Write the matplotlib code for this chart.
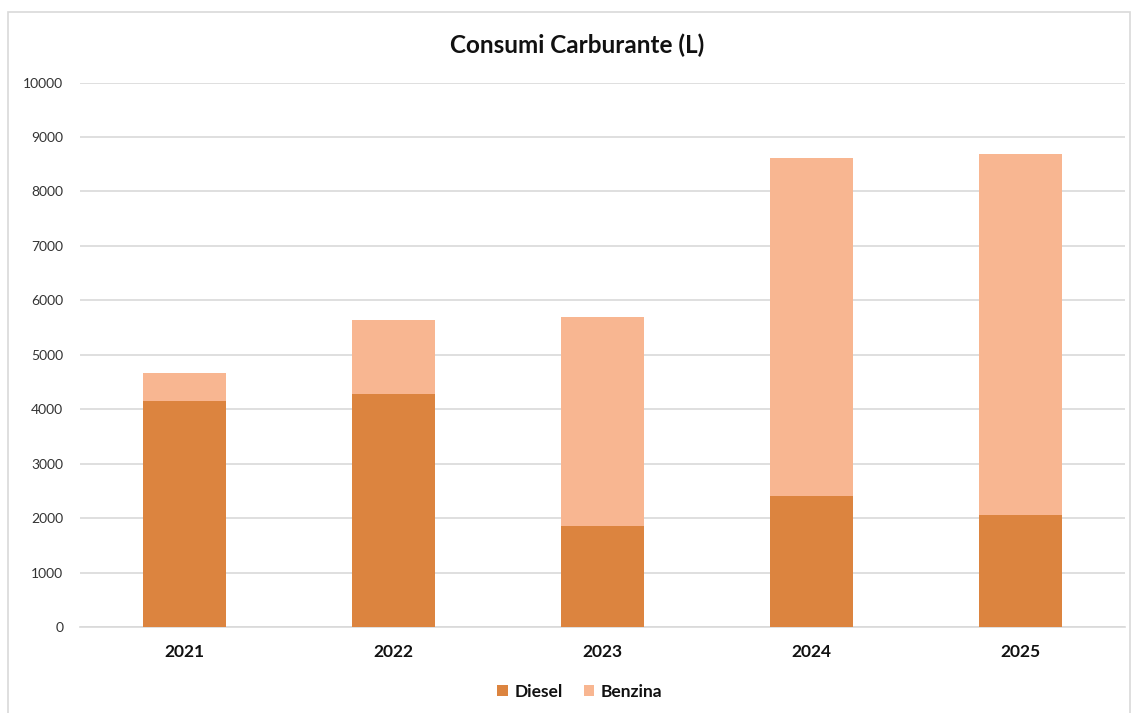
import matplotlib.pyplot as plt
from matplotlib.patches import Rectangle

# data
years = ['2021', '2022', '2023', '2024', '2025']
diesel = [4155, 4275, 1860, 2400, 2057]
benzina = [505, 1358, 3839, 6213, 6624]
yticks = list(range(0, 10001, 1000))

diesel_color = '#DC843F'
benzina_color = '#F8B691'
grid_color = '#D9D9D9'

plt.rcParams['font.family'] = ['Lato', 'DejaVu Sans']

fig = plt.figure(figsize=(11.32, 7.13), dpi=100)
ax = fig.add_axes([80 / 1132, 1 - 627 / 713, 1045 / 1132, 544.5 / 713])

x = list(range(len(years)))
b1 = ax.bar(x, diesel, width=0.4, color=diesel_color, label='Diesel', zorder=3)
b2 = ax.bar(x, benzina, width=0.4, bottom=diesel, color=benzina_color,
            label='Benzina', zorder=3)

ax.set_xlim(-0.5, len(years) - 0.5)
ax.set_ylim(0, 10000)
ax.set_yticks(yticks)
ax.set_yticklabels([str(v) for v in yticks], fontsize=10, color='#333333')
ax.set_xticks(x)
ax.set_xticklabels(years, fontsize=12.5, fontweight='bold', color='#111111')
ax.tick_params(axis='y', length=0, pad=12)
ax.tick_params(axis='x', length=0, pad=12)
ax.grid(axis='y', color=grid_color, linewidth=1.2, zorder=0)

for side in ['left', 'right', 'top']:
    ax.spines[side].set_visible(False)
ax.spines['bottom'].set_color(grid_color)
ax.spines['bottom'].set_linewidth(1.2)

fig.text(577 / 1132, 1 - 45 / 713, 'Consumi Carburante (L)', ha='center',
         va='center', fontsize=17.5, fontweight='bold', color='#111111')

fig.legend(handles=[b1, b2], labels=['Diesel', 'Benzina'], ncol=2,
           loc='center', bbox_to_anchor=(580 / 1132, 1 - 692 / 713),
           frameon=False, prop={'size': 12.5, 'weight': 'bold'},
           handlelength=0.6, handleheight=0.6, handletextpad=0.4,
           columnspacing=1.2, labelcolor='#111111')

# chart area border
fig.patches.append(Rectangle((8 / 1132, -0.05), 1122 / 1132, 1.05 - 12 / 713,
                             transform=fig.transFigure, fill=False,
                             edgecolor=grid_color, linewidth=1.2))

fig.savefig('out.png', dpi=100)
